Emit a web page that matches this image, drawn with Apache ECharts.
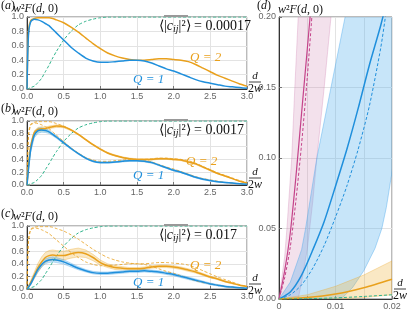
<!DOCTYPE html>
<html><head><meta charset="utf-8">
<script src="https://cdn.jsdelivr.net/npm/echarts@6/dist/echarts.min.js"></script>
<style>html,body{margin:0;padding:0;background:#fff}#c{width:407px;height:311px}</style>
</head><body><div id="c"></div>
<script>
// ---------- data ----------
const xs = [0,0.02,0.05,0.1,0.15,0.2,0.25,0.3,0.35,0.4,0.5,0.6,0.7,0.8,0.9,1.0,1.1,1.2,1.3,1.4,1.5,1.6,1.7,1.8,1.9,2.0,2.1,2.2,2.3,2.4,2.5,2.6,2.7,2.8,2.9,3.0];
const green = [0,0.005,0.02,0.04,0.09,0.15,0.24,0.33,0.43,0.52,0.68,0.80,0.89,0.94,0.97,0.99,1,1,1,1,1,1,1,1,1,1,1,1,1,1,1,1,1,1,1,1];
const aQ1 = [0,0.75,0.93,0.97,0.96,0.94,0.91,0.88,0.83,0.78,0.68,0.58,0.50,0.43,0.39,0.37,0.37,0.38,0.39,0.40,0.40,0.39,0.36,0.32,0.28,0.25,0.21,0.17,0.13,0.10,0.08,0.06,0.04,0.03,0.02,0.01];
const aQ2 = [0,0.8,0.95,0.98,0.99,0.99,0.99,0.99,0.98,0.96,0.92,0.86,0.79,0.71,0.63,0.56,0.50,0.46,0.43,0.41,0.40,0.40,0.41,0.42,0.42,0.41,0.40,0.38,0.34,0.29,0.24,0.19,0.15,0.11,0.07,0.04];
const bQ1 = [0,0.25,0.55,0.78,0.85,0.86,0.85,0.83,0.79,0.75,0.66,0.57,0.49,0.42,0.37,0.35,0.35,0.36,0.37,0.38,0.38,0.37,0.35,0.31,0.27,0.23,0.20,0.16,0.12,0.09,0.07,0.05,0.04,0.03,0.02,0.01];
const bQ1Err = [0,0.03,0.04,0.04,0.04,0.035,0.03,0.025,0.02,0.02,0.015,0.012,0.01,0.01,0.01,0.01,0.01,0.01,0.01,0.01,0.01,0.01,0.01,0.01,0.01,0.01,0.01,0.01,0.01,0.01,0.008,0.006,0.005,0.004,0.003,0.002];
const bQ2 = [0,0.3,0.6,0.82,0.87,0.88,0.88,0.90,0.91,0.92,0.91,0.86,0.79,0.71,0.63,0.56,0.50,0.46,0.43,0.41,0.40,0.40,0.40,0.41,0.41,0.40,0.39,0.36,0.33,0.28,0.23,0.18,0.14,0.10,0.06,0.03];
const bQ2Err = [0,0.02,0.03,0.03,0.03,0.03,0.025,0.02,0.02,0.02,0.015,0.012,0.01,0.01,0.01,0.01,0.01,0.01,0.01,0.01,0.01,0.01,0.01,0.01,0.01,0.01,0.01,0.01,0.01,0.01,0.008,0.006,0.005,0.004,0.003,0.002];
const cQ1 = [0,0.03,0.08,0.2,0.31,0.39,0.44,0.46,0.47,0.46,0.43,0.38,0.33,0.29,0.26,0.25,0.25,0.26,0.27,0.28,0.28,0.29,0.28,0.27,0.25,0.23,0.20,0.17,0.14,0.11,0.08,0.06,0.04,0.03,0.02,0.01];
const cQ1Err = [0,0.01,0.02,0.03,0.04,0.04,0.04,0.04,0.04,0.04,0.035,0.03,0.025,0.02,0.02,0.02,0.02,0.02,0.02,0.02,0.02,0.02,0.02,0.02,0.02,0.02,0.02,0.02,0.018,0.016,0.014,0.012,0.01,0.008,0.006,0.004];
const cQ2 = [0,0.04,0.1,0.22,0.34,0.43,0.5,0.53,0.54,0.53,0.53,0.56,0.58,0.56,0.5,0.42,0.37,0.34,0.33,0.32,0.32,0.33,0.35,0.36,0.36,0.35,0.33,0.30,0.27,0.23,0.19,0.16,0.12,0.09,0.06,0.04];
const cQ2Err = [0,0.01,0.03,0.05,0.07,0.08,0.08,0.08,0.08,0.08,0.07,0.07,0.07,0.06,0.05,0.04,0.03,0.03,0.025,0.02,0.02,0.02,0.02,0.02,0.02,0.02,0.02,0.02,0.018,0.016,0.014,0.012,0.01,0.008,0.006,0.004];

// panel (d)
const dPinkX = [0,0.001,0.002,0.003,0.004,0.005,0.0055,0.006];
const dPinkY = [0,0.02,0.047,0.087,0.132,0.177,0.2,0.222];
const dPinkDashX = [0,0.001,0.002,0.003,0.004,0.005,0.006];
const dPinkDashY = [0,0.015,0.037,0.07,0.11,0.157,0.21];
const dPinkHiX = [0,0.001,0.0014,0.00225,0.0028,0.0034,0.004];
const dPinkHiY = [0,0.03,0.05,0.1,0.15,0.2,0.25];
const dPinkLoX = [0,0.0034,0.004,0.005,0.006,0.0067,0.008,0.0092,0.01];
const dPinkLoY = [0,0,0.012,0.035,0.07,0.1,0.15,0.2,0.23];
const dBlueX = [0,0.002,0.004,0.006,0.008,0.01,0.012,0.014,0.016,0.018,0.019];
const dBlueY = [0,0.005,0.017,0.035,0.055,0.08,0.106,0.135,0.166,0.194,0.21];
const dBlueDashX = [0,0.002,0.004,0.006,0.008,0.01,0.012,0.014,0.016,0.018,0.019,0.02];
const dBlueDashY = [0,0.003,0.01,0.022,0.038,0.058,0.08,0.106,0.137,0.178,0.205,0.235];
const dBlueHiX = [0,0.002,0.004,0.0047,0.0067,0.0092,0.0117,0.013];
const dBlueHiY = [0,0.012,0.035,0.05,0.1,0.15,0.2,0.225];
const dBlueLoX = [0,0.011,0.013,0.015,0.017,0.0182,0.019,0.02,0.021,0.024];
const dBlueLoY = [0,0,0.008,0.02,0.036,0.05,0.065,0.09,0.115,0.23];
const dOrangeX = [0,0.005,0.01,0.015,0.02];
const dOrangeY = [0,0.001,0.0035,0.008,0.014];
const dOrangeHiY = [0,0.003,0.009,0.017,0.027];
const dOrangeLoY = [0,0,0,0.001,0.003];
const dGreenX = [0,0.005,0.01,0.015,0.02];
const dGreenY = [0,0.0002,0.0008,0.0018,0.003];

// ---------- style ----------
const BLUE = '#1f8fdc', ORANGE = '#e9a01c', GREEN = '#2fb38b', PINK = '#c4448a';
const SERIF = 'Liberation Serif';
const pairs = (x, y) => x.map((v, i) => [v, y[i]]);

function band(gi, xArr, hiArr, xLo, loArr, fill, stroke) {
  return {
    type: 'custom', xAxisIndex: gi, yAxisIndex: gi, data: [[0, 0]], silent: true, z: 1,
    renderItem: function (params, api) {
      const pts = [];
      for (let i = 0; i < xArr.length; i++) pts.push(api.coord([xArr[i], hiArr[i]]));
      for (let i = xLo.length - 1; i >= 0; i--) pts.push(api.coord([xLo[i], loArr[i]]));
      const cs = params.coordSys;
      return { type: 'polygon', shape: { points: pts },
        style: { fill: fill, stroke: stroke, lineWidth: 0.6 },
        clipPath: { type: 'rect', shape: { x: cs.x, y: cs.y, width: cs.width, height: cs.height } } };
    }
  };
}
function errBand(gi, y, e, fill, stroke) {
  const hi = y.map((v, i) => v + e[i]);
  const lo = y.map((v, i) => Math.max(0, v - e[i]));
  return band(gi, xs, hi, xs, lo, fill, stroke);
}
function line(gi, x, y, color, width, dash, z) {
  return { type: 'line', xAxisIndex: gi, yAxisIndex: gi, data: pairs(x, y), showSymbol: false,
    smooth: 0.25, silent: true, z: z || 3,
    lineStyle: { color: color, width: width, type: dash || 'solid' } };
}

const grids = [
  { left: 27, top: 17, width: 220, height: 72 },
  { left: 27, top: 121, width: 220, height: 64 },
  { left: 27, top: 226, width: 220, height: 63 },
  { left: 279, top: 17, width: 113, height: 284 }
].map(g => Object.assign({ show: true, borderColor: '#777', borderWidth: 1, containLabel: false }, g));

const lbl = { color: '#666', fontSize: 9, fontFamily: 'Liberation Sans', margin: 3 };
const split = { show: true, lineStyle: { color: '#e3e3e3', width: 1 } };
const axLine = { show: true, lineStyle: { color: '#333', width: 1 } };
const tick = { show: true, inside: true, length: 3, lineStyle: { color: '#777' } };

const xAxes = [0, 1, 2].map(i => ({ type: 'value', gridIndex: i, min: 0, max: 3, interval: 0.5,
  axisLine: axLine, axisTick: tick, splitLine: split,
  axisLabel: Object.assign({}, lbl, { formatter: v => v.toFixed(1) }) }));
xAxes.push({ type: 'value', gridIndex: 3, min: 0, max: 0.02, interval: 0.005,
  axisLine: axLine, axisTick: tick, splitLine: split,
  axisLabel: Object.assign({}, lbl, { formatter: v => (Math.round(v * 1000) % 10 === 0 ? String(+v.toFixed(2)) : '') }) });
const yAxes = [0, 1, 2].map(i => ({ type: 'value', gridIndex: i, min: 0, max: 1, interval: 0.2,
  axisLine: axLine, axisTick: tick, splitLine: split,
  axisLabel: Object.assign({}, lbl, { formatter: v => v.toFixed(1) }) }));
yAxes.push({ type: 'value', gridIndex: 3, min: 0, max: 0.2, interval: 0.05,
  axisLine: axLine, axisTick: tick, splitLine: split,
  axisLabel: Object.assign({}, lbl, { formatter: v => v.toFixed(2) }) });

const BLUEBAND = 'rgba(60,160,230,0.28)', BLUEEDGE = 'rgba(60,160,230,0.55)';
const ORBAND = 'rgba(240,180,60,0.30)', OREDGE = 'rgba(235,170,50,0.6)';
const series = [
  // (a)
  line(0, xs, green, GREEN, 1, [3, 2]),
  line(0, xs, aQ2, ORANGE, 1.5),
  line(0, xs, aQ1, BLUE, 1.5),
  // (b)
  errBand(1, bQ2, bQ2Err, ORBAND, OREDGE),
  errBand(1, bQ1, bQ1Err, 'rgba(70,170,190,0.35)', BLUEEDGE),
  line(1, xs, green, GREEN, 1, [3, 2]),
  line(1, xs, aQ2, ORANGE, 0.8, [3, 2]),
  line(1, xs, aQ1, ORANGE, 0.8, [3, 2]),
  line(1, xs, bQ2, ORANGE, 1.5),
  line(1, xs, bQ1, BLUE, 1.5),
  // (c)
  errBand(2, cQ2, cQ2Err, ORBAND, OREDGE),
  errBand(2, cQ1, cQ1Err, BLUEBAND, BLUEEDGE),
  line(2, xs, green, GREEN, 1, [3, 2]),
  line(2, xs, aQ2, ORANGE, 0.8, [3, 2]),
  line(2, xs, aQ1, ORANGE, 0.8, [3, 2]),
  line(2, xs, cQ2, ORANGE, 1.5),
  line(2, xs, cQ1, BLUE, 1.5),
  // (d)
  band(3, dPinkHiX, dPinkHiY, dPinkLoX, dPinkLoY, 'rgba(200,120,170,0.22)', 'rgba(200,110,165,0.45)'),
  band(3, dBlueHiX, dBlueHiY, dBlueLoX, dBlueLoY, 'rgba(80,175,235,0.32)', 'rgba(70,165,235,0.7)'),
  band(3, dOrangeX, dOrangeHiY, dOrangeX, dOrangeLoY, ORBAND, OREDGE),
  line(3, dPinkX, dPinkY, PINK, 1.2),
  line(3, dPinkDashX, dPinkDashY, PINK, 1, [3, 2]),
  line(3, dBlueX, dBlueY, BLUE, 1.5),
  line(3, dBlueDashX, dBlueDashY, BLUE, 1, [3, 2]),
  line(3, dOrangeX, dOrangeY, ORANGE, 1.5),
  line(3, dGreenX, dGreenY, GREEN, 1, [3, 2])
];

// ---------- text annotations ----------
const rich = {
  n: { fontFamily: SERIF, fontSize: 12, fill: '#111' },
  i: { fontFamily: SERIF, fontSize: 12, fontStyle: 'italic', fill: '#111' },
  ni: { fontFamily: SERIF, fontSize: 12, fontStyle: 'italic', fill: '#111' },
  nn: { fontFamily: SERIF, fontSize: 12, fill: '#111' },
  cn: { fontFamily: SERIF, fontSize: 14, fill: '#111' },
  ci: { fontFamily: SERIF, fontSize: 14, fontStyle: 'italic', fill: '#111' },
  sub: { fontFamily: SERIF, fontSize: 10, fontStyle: 'italic', fill: '#111', padding: [6, 0, 0, 0] }
};
function txt(x, y, text, align) {
  return { type: 'text', x: x, y: y, z: 100, silent: true,
    style: { text: text, rich: rich, align: align || 'left', verticalAlign: 'middle' } };
}
function qlabel(x, y, q, color) {
  return { type: 'text', x: x, y: y, z: 100, silent: true,
    style: { text: 'Q = ' + q, fill: color, fontFamily: SERIF, fontSize: 13, fontStyle: 'italic', align: 'left', verticalAlign: 'middle' } };
}
function frac(x, y) {
  return [
    { type: 'text', x: x, y: y - 6, z: 100, silent: true, style: { text: 'd', fill: '#111', fontFamily: SERIF, fontSize: 11, fontStyle: 'italic', align: 'center', verticalAlign: 'middle' } },
    { type: 'line', z: 100, silent: true, shape: { x1: x - 6, y1: y, x2: x + 6, y2: y }, style: { stroke: '#111', lineWidth: 0.8 } },
    { type: 'text', x: x, y: y + 7, z: 100, silent: true, style: { text: '{nn|2}{ni|w}', rich: rich, align: 'center', verticalAlign: 'middle' } }
  ];
}
function corr(yTop, val) {
  return [
    txt(159, yTop + 9, '{cn|⟨|}{ci|c}{sub|ij}{cn||²⟩ = ' + val + '}'),
    { type: 'line', z: 100, silent: true, shape: { x1: 164, y1: yTop - 1, x2: 188, y2: yTop - 1 }, style: { stroke: '#999', lineWidth: 2 } }
  ];
}
const wF = '{ni|w}{nn|²}{ni|F}{nn|(}{ni|d}{nn|, 0)}';
const graphic = [
  txt(1, 6, '{n|(}{i|a}{n|)}'), txt(13, 9, wF),
  txt(1, 109, '{n|(}{i|b}{n|)}'), txt(13, 112, wF),
  txt(1, 214, '{n|(}{i|c}{n|)}'), txt(13, 217, wF),
  txt(257, 6, '{n|(}{i|d}{n|)}'), txt(278, 10, wF),
  ...corr(17, '0.00017'), ...corr(121, '0.0017'), ...corr(226, '0.017'),
  qlabel(190, 58, 2, ORANGE), qlabel(133, 80, 1, BLUE),
  qlabel(186, 162, 2, ORANGE), qlabel(133, 176, 1, BLUE),
  qlabel(190, 266, 2, ORANGE), qlabel(133, 283, 1, BLUE),
  ...frac(255, 82), ...frac(255, 178), ...frac(255, 284), ...frac(400, 289)
];

const chart = echarts.init(document.getElementById('c'), null, { renderer: 'canvas' });
chart.setOption({ animation: false, backgroundColor: '#fff', grid: grids, xAxis: xAxes, yAxis: yAxes, series: series, graphic: graphic });
</script></body></html>
